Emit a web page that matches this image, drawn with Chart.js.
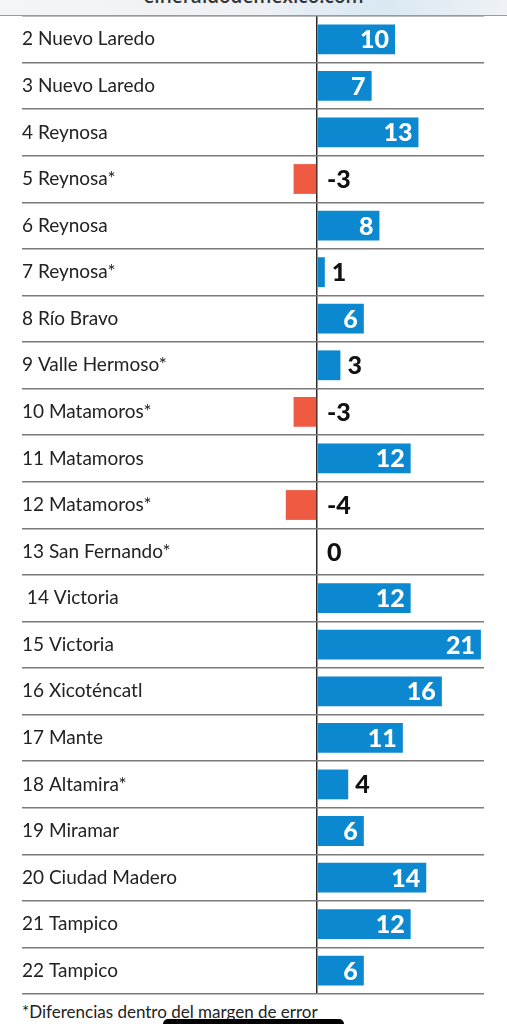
<!DOCTYPE html>
<html>
<head>
<meta charset="utf-8">
<script src="https://cdn.jsdelivr.net/npm/chart.js@4.4.1/dist/chart.umd.min.js"></script>
<style>
  html, body { margin:0; padding:0; background:#fff; width:507px; height:1024px; overflow:hidden; }
  #hdr { position:absolute; left:0; top:0; width:507px; height:16px; overflow:hidden;
         background:linear-gradient(90deg,#f4f5f6 0%,#eef1f4 50%,#d9e8f3 75%,#eef2f5 100%);
         border-bottom:1.5px solid #9a9a9a; box-sizing:border-box; z-index:2; }
  #hdr span { position:absolute; left:0; width:507px; text-align:center; top:-17px;
         font:600 19px "Open Sans", sans-serif; color:#333; }
  #wrap { position:absolute; left:0; top:0; width:507px; height:1000px; }
  #foot { position:absolute; left:22px; top:1001px; font:17px Lato, sans-serif; color:#222; white-space:nowrap; }
  #home { position:absolute; left:163px; top:1019px; width:181px; height:10px; background:#000; border-radius:5px; z-index:3; }
</style>
</head>
<body>
<div id="hdr"><span>elheraldodemexico.com</span></div>
<div id="wrap"><canvas id="c"></canvas></div>
<div id="foot">*Diferencias dentro del margen de error</div>
<div id="home"></div>
<script>
const categories = ["2 Nuevo Laredo","3 Nuevo Laredo","4 Reynosa","5 Reynosa*","6 Reynosa","7 Reynosa*","8 Río Bravo","9 Valle Hermoso*","10 Matamoros*","11 Matamoros","12 Matamoros*","13 San Fernando*"," 14 Victoria","15 Victoria","16 Xicoténcatl","17 Mante","18 Altamira*","19 Miramar","20 Ciudad Madero","21 Tampico","22 Tampico"];
const values = [10,7,13,-3,8,1,6,3,-3,12,-4,0,12,21,16,11,4,6,14,12,6];

const BLUE = '#0b88cf', RED = '#ef5a43';

const valueLabels = {
  id: 'valueLabels',
  afterDatasetsDraw(chart) {
    const ctx = chart.ctx;
    const meta = chart.getDatasetMeta(0);
    const zero = chart.scales.x.getPixelForValue(0);
    ctx.save();
    ctx.font = '900 25px Lato, sans-serif';
    ctx.textBaseline = 'middle';
    meta.data.forEach((bar, i) => {
      const v = values[i];
      const txt = String(v);
      const y = bar.y + 1;
      if (v >= 6) {
        ctx.fillStyle = '#fff';
        ctx.textAlign = 'right';
        ctx.fillText(txt, bar.x - 6, y);
      } else if (v > 0) {
        ctx.fillStyle = '#111';
        ctx.textAlign = 'left';
        ctx.fillText(txt, bar.x + 7, y);
      } else {
        ctx.fillStyle = '#111';
        ctx.textAlign = 'left';
        ctx.fillText(txt, zero + 10, y);
      }
    });
    ctx.restore();
  }
};

new Chart(document.getElementById('c'), {
  type: 'bar',
  data: {
    labels: categories,
    datasets: [{
      data: values,
      backgroundColor: values.map(v => v < 0 ? RED : BLUE),
      borderWidth: 0,
      barPercentage: 0.64,
      categoryPercentage: 1
    }]
  },
  options: {
    indexAxis: 'y',
    responsive: true,
    maintainAspectRatio: false,
    animation: false,
    layout: { padding: { left: 22, right: 23, top: 16, bottom: 6 } },
    plugins: { legend: { display: false }, tooltip: { enabled: false } },
    scales: {
      x: {
        min: -37.8, max: 21.4,
        afterBuildTicks: s => { s.ticks = [{ value: 0 }]; },
        afterFit: s => { s.height = 0; s.paddingLeft = 0; s.paddingRight = 0; },
        ticks: { display: false },
        border: { display: false },
        grid: { drawTicks: false, color: '#2a2a2a', lineWidth: 1.5 }
      },
      y: {
        afterFit: s => { s.width = 0; s.paddingTop = 0; s.paddingBottom = 0; },
        ticks: { mirror: true, padding: 0, color: '#222', font: { family: 'Lato', size: 19 } },
        border: { display: false },
        grid: { offset: true, drawTicks: false, color: '#7a7a7a', lineWidth: 1.4 }
      }
    }
  },
  plugins: [valueLabels]
});
</script>
</body>
</html>
